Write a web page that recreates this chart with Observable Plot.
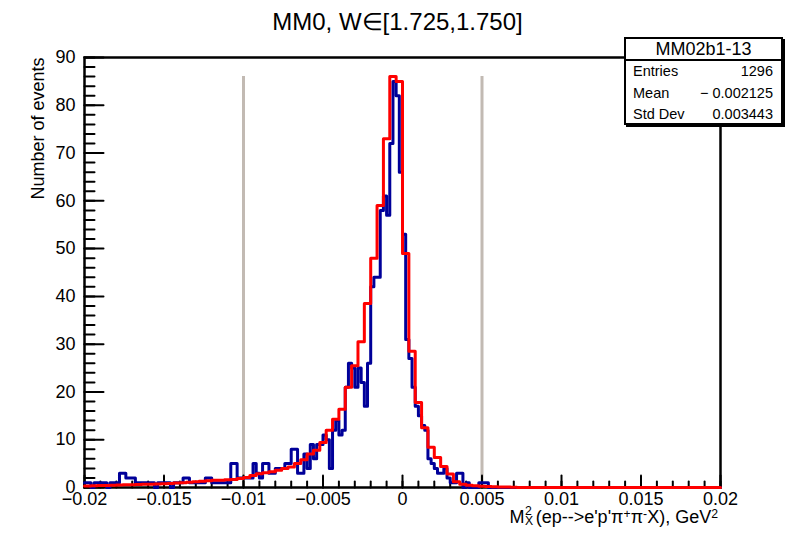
<!DOCTYPE html>
<html>
<head>
<meta charset="utf-8">
<script src="https://cdn.jsdelivr.net/npm/d3@7"></script>
<script src="https://cdn.jsdelivr.net/npm/@observablehq/plot@0.6"></script>
<style>
  html, body { margin: 0; padding: 0; background: #fff; }
  body { font-family: "Liberation Sans", Arial, Helvetica, sans-serif; }
  #wrap { position: relative; width: 807px; height: 537px; overflow: hidden; }
  #wrap svg { font-family: "Liberation Sans", Arial, Helvetica, sans-serif; }
  #stat { position: absolute; left: 624px; top: 37px; width: 159px; height: 88px; box-sizing: border-box;
          border: 2px solid #000; background: #fff; box-shadow: 2px 2px 0 #000; color: #000; }
  #stat .hdr { height: 20px; border-bottom: 2px solid #000; text-align: center; font-size: 18px; line-height: 21px; }
  #stat .row { position: relative; height: 21.5px; font-size: 14.5px; line-height: 21.5px; }
  #stat .row .l { position: absolute; left: 7px; }
  #stat .row .r { position: absolute; right: 8px; }
  #xtitle { position: absolute; right: 89px; top: 505px; font-size: 18px; line-height: 20px; white-space: nowrap; color: #000; }
  #xtitle .stack { display: inline-block; position: relative; width: 0.62em; height: 1em; }
  #xtitle .stack .s1 { position: absolute; left: 0.05em; top: -0.35em; font-size: 0.68em; }
  #xtitle .stack .s2 { position: absolute; left: 0.05em; top: 0.5em; font-size: 0.68em; }
  #xtitle sup { font-size: 0.68em; vertical-align: 0.45em; line-height: 0; }
</style>
</head>
<body>
<div id="wrap"></div>
<script>
// ---- axis ranges and binning ----
const xMin = -0.02, xMax = 0.02;
const yMin = 0, yMax = 90;
const blueBinWidth = 0.0002;   // data histogram, 200 bins
const redBinWidth = 0.0004;    // simulation histogram, 100 bins

// ---- data histogram (blue), counts per bin from -0.02 ----
const blueCounts = [
  1,1,0,1,1,1,1,0,1,1,
  1,3,3,2,2,2,1,1,1,1,
  1,1,0,1,1,1,1,0,1,1,
  1,2,2,1,1,1,1,1,2,2,
  1,1,1,1,1,1,5,5,2,2,
  2,2,2,5,3,2,5,5,3,3,
  4,4,4,5,5,8,8,3,3,7,
  4,9,6,9,9,11,10,4,12,14,
  11,12,21,26,25,21,25,22,17,26,
  42,44,44,58,61,57,72,85,82,66,
  53,31,27,21,17,15,13,12,6,5,
  4,3,3,4,2,1,1,3,3,0,
  1,0,0,0,1,1,1,0,0,0,
  0,0,0,0,0,0,0,0,0,0,
  0,0,0,0,0,0,0,0,0,0,
  0,0,0,0,0,0,0,0,0,0,
  0,0,0,0,0,0,0,0,0,0,
  0,0,0,0,0,0,0,0,0,0,
  0,0,0,0,0,0,0,0,0,0,
  0,0,0,0,0,0,0,0,0,0
];

// ---- simulation histogram (red), scaled contents per bin from -0.02 ----
const redCounts = [
  0.3,0.35,0.4,0.4,0.45,0.5,0.55,0.6,0.65,0.7,
  0.7,0.75,0.8,0.85,0.95,1.0,1.1,1.2,1.3,1.4,
  1.5,1.5,1.6,1.7,1.9,2.1,2.5,2.9,3.1,3.3,
  3.6,4.0,4.3,5.0,5.8,7.0,7.8,9.4,12,14.3,
  16.4,21,25.5,30.5,38.5,48,59,73,86,85,
  49,28.5,17.8,12.5,8.4,6.3,4.4,2.8,1.2,0.7,
  0.45,0.35,0.25,0.2,0.15,0.1,0.1,0.05,0,0,
  0,0,0,0,0,0,0,0,0,0,
  0,0,0,0,0,0,0,0,0,0,
  0,0,0,0,0,0,0,0,0,0
];

// ---- cut lines ----
const cutPositions = [-0.01, 0.005];
const cutHeight = 86;

// ---- ticks and labels ----
const xTicks = [-0.02, -0.015, -0.01, -0.005, 0, 0.005, 0.01, 0.015, 0.02];
const xTickLabels = ["\u22120.02", "\u22120.015", "\u22120.01", "\u22120.005", "0", "0.005", "0.01", "0.015", "0.02"];
const xMinorTicks = d3.range(-20, 21).map(i => i / 1000);
const yTicks = [0, 10, 20, 30, 40, 50, 60, 70, 80, 90];
const yTickLabels = ["0", "10", "20", "30", "40", "50", "60", "70", "80", "90"];
const yMinorTicks = d3.range(0, 92, 2);

// ---- texts ----
const titleText = "MM0, W\u2208[1.725,1.750]";
const yTitle = "Number of events";
const statName = "MM02b1-13";
const statLabels = ["Entries", "Mean", "Std Dev"];
const statValues = ["1296", "\u2212 0.002125", "0.003443"];

// ---- step data ----
function steps(counts, w) {
  const pts = counts.map((v, i) => ({x: xMin + i * w, y: v}));
  pts.push({x: xMax, y: counts[counts.length - 1]});
  return pts;
}
const blueSteps = steps(blueCounts, blueBinWidth);
const redSteps = steps(redCounts, redBinWidth);

const W = 807, H = 537, mL = 84, mR = 87, mT = 57, mB = 50;
const innerW = W - mL - mR, innerH = H - mT - mB;
// tick lengths in pixels, converted to scale units (ROOT draws ticks inward)
const xMajorLen = 12, xMinorLen = 6, yMajorLen = 19, yMinorLen = 10;
const yPerPx = (yMax - yMin) / innerH;
const xPerPx = (xMax - xMin) / innerW;

// tick segments as two-point series
const tickSegs = [];
xMinorTicks.forEach((t, i) => {
  tickSegs.push({x: t, y: yMin, id: "xm" + i}, {x: t, y: yMin + xMinorLen * yPerPx, id: "xm" + i});
});
xTicks.forEach((t, i) => {
  tickSegs.push({x: t, y: yMin, id: "xM" + i}, {x: t, y: yMin + xMajorLen * yPerPx, id: "xM" + i});
});
yMinorTicks.forEach((t, i) => {
  tickSegs.push({x: xMin, y: t, id: "ym" + i}, {x: xMin + yMinorLen * xPerPx, y: t, id: "ym" + i});
});
yTicks.forEach((t, i) => {
  tickSegs.push({x: xMin, y: t, id: "yM" + i}, {x: xMin + yMajorLen * xPerPx, y: t, id: "yM" + i});
});

const chart = Plot.plot({
  width: W,
  height: H,
  marginLeft: mL,
  marginRight: mR,
  marginTop: mT,
  marginBottom: mB,
  x: {domain: [xMin, xMax]},
  y: {domain: [yMin, yMax]},
  marks: [
    Plot.ruleX(cutPositions, {x: d => d, y1: 0, y2: cutHeight, stroke: "#c2bab3", strokeWidth: 3}),
    Plot.frame({stroke: "black", strokeWidth: 2.5}),
    Plot.line(tickSegs, {x: "x", y: "y", z: "id", stroke: "black", strokeWidth: 2}),
    Plot.line(blueSteps, {x: "x", y: "y", curve: "step-after", stroke: "#000099", strokeWidth: 3}),
    Plot.line(redSteps, {x: "x", y: "y", curve: "step-after", stroke: "#ff0000", strokeWidth: 3}),
    Plot.axisX(xTicks, {anchor: "bottom", tickSize: 0, tickPadding: 5, fontSize: 18, tickFormat: (d, i) => xTickLabels[i], label: null}),
    Plot.axisY(yTicks, {anchor: "left", tickSize: 0, tickPadding: 9, fontSize: 18, tickFormat: (d, i) => yTickLabels[i], label: null}),
    Plot.text([titleText], {frameAnchor: "top", dx: -5, dy: -28, lineAnchor: "bottom", fontSize: 24, fill: "black", text: d => d}),
    Plot.text([yTitle], {frameAnchor: "top-left", dx: -41, dy: 0, rotate: -90, textAnchor: "end", lineAnchor: "bottom", fontSize: 18, fill: "black", text: d => d})
  ]
});

const wrap = document.getElementById("wrap");
wrap.appendChild(chart);

const xt = document.createElement("div");
xt.id = "xtitle";
xt.innerHTML = 'M<span class="stack"><span class="s1">2</span><span class="s2">X</span></span>(ep--&gt;e\'p\'\u03c0<sup>+</sup>\u03c0<sup>-</sup>X), GeV<sup>2</sup>';
wrap.appendChild(xt);

const st = document.createElement("div");
st.id = "stat";
let html = '<div class="hdr">' + statName + '</div>';
statLabels.forEach((l, i) => {
  html += '<div class="row"><span class="l">' + l + '</span><span class="r">' + statValues[i] + '</span></div>';
});
st.innerHTML = html;
wrap.appendChild(st);
</script>
</body>
</html>
